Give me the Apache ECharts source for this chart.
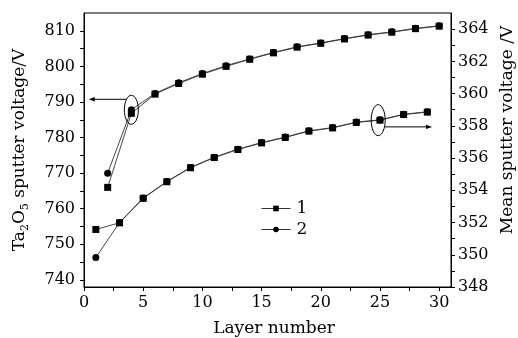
<!DOCTYPE html>
<html><head><meta charset="utf-8">
<script src="https://cdn.jsdelivr.net/npm/echarts@6/dist/echarts.min.js"></script>
<style>html,body{margin:0;padding:0;background:#fff}#c{width:518px;height:338px}</style>
</head><body><div id="c"></div>
<script>
// Upper curve (left axis: Ta2O5 sputter voltage)
const upperX = [2, 4, 6, 8, 10, 12, 14, 16, 18, 20, 22, 24, 26, 28, 30];
const upperS1 = [766.0, 786.8, 792.2, 795.2, 797.8, 800.0, 802.0, 803.8, 805.4, 806.5, 807.7, 808.8, 809.6, 810.6, 811.3];
const upperS2 = [770.0, 787.8, 792.4, 795.4, 798.0, 800.2, 802.1, 803.9, 805.5, 806.6, 807.8, 808.9, 809.7, 810.7, 811.4];
// Lower curve (right axis: mean sputter voltage)
const lowerX = [1, 3, 5, 7, 9, 11, 13, 15, 17, 19, 21, 23, 25, 27, 29];
const lowerS1 = [351.57, 351.98, 353.50, 354.53, 355.40, 356.03, 356.53, 356.94, 357.28, 357.67, 357.87, 358.21, 358.35, 358.70, 358.85];
const lowerS2 = [349.83, 352.00, 353.52, 354.55, 355.42, 356.05, 356.55, 356.96, 357.30, 357.69, 357.89, 358.23, 358.37, 358.72, 358.87];
// Tick labels and tick marks
const xLabels = [0, 5, 10, 15, 20, 25, 30];
const xTickMarks = [0, 2.5, 5, 7.5, 10, 12.5, 15, 17.5, 20, 22.5, 25, 27.5, 30];
const leftLabels = [740, 750, 760, 770, 780, 790, 800, 810];
const leftTickMarks = [740, 745, 750, 755, 760, 765, 770, 775, 780, 785, 790, 795, 800, 805, 810];
const rightLabels = [348, 350, 352, 354, 356, 358, 360, 362, 364];
const rightTickMarks = [348, 349, 350, 351, 352, 353, 354, 355, 356, 357, 358, 359, 360, 361, 362, 363, 364];
const seriesNames = ['1', '2'];

const FONT = 'DejaVu Serif';
const zip = (xs, ys) => xs.map((x, i) => [x, ys[i]]);

const chart = echarts.init(document.getElementById('c'), null, {renderer: 'canvas'});

function axisCommon(labels, ticks, margin) {
  return {
    axisLine: {show: true, onZero: false, lineStyle: {color: '#000', width: 1}},
    axisTick: {show: true, inside: false, length: 4, customValues: ticks, lineStyle: {color: '#000', width: 1}},
    axisLabel: {customValues: labels, color: '#000', fontSize: 16, fontFamily: FONT, margin: margin},
    splitLine: {show: false}
  };
}

const lineStyle = {color: '#333', width: 0.9};
const mkSeries = (name, data, yIdx, symbol) => ({
  name, type: 'line', data, yAxisIndex: yIdx, symbol, symbolSize: 7,
  lineStyle, itemStyle: {color: '#000'}, animation: false, z: 3
});

const option = {
  animation: false,
  grid: {left: 84, right: 67, top: 13, bottom: 51, show: true, borderColor: '#000', borderWidth: 1},
  xAxis: Object.assign({type: 'value', min: 0, max: 31}, axisCommon(xLabels, xTickMarks, 8)),
  yAxis: [
    Object.assign({type: 'value', position: 'left', min: 738, max: 815}, axisCommon(leftLabels, leftTickMarks, 9)),
    Object.assign({type: 'value', position: 'right', min: 348, max: 365}, axisCommon(rightLabels, rightTickMarks, 7))
  ],
  legend: {
    left: 256, top: 195, orient: 'vertical', itemWidth: 29, itemHeight: 7, itemGap: 4,
    data: seriesNames,
    textStyle: {fontSize: 17, fontFamily: FONT, color: '#000', lineHeight: 17, padding: [0, 0, 0, 1]},
    lineStyle: {color: '#333', width: 1}
  },
  series: [
    mkSeries(seriesNames[0], zip(upperX, upperS1), 0, 'rect'),
    mkSeries(seriesNames[1], zip(upperX, upperS2), 0, 'circle'),
    mkSeries(seriesNames[0], zip(lowerX, lowerS1), 1, 'rect'),
    mkSeries(seriesNames[1], zip(lowerX, lowerS2), 1, 'circle')
  ]
};
chart.setOption(option);

// Annotations positioned from data coordinates
const pL = (x, y) => chart.convertToPixel({xAxisIndex: 0, yAxisIndex: 0}, [x, y]);
const pR = (x, y) => chart.convertToPixel({xAxisIndex: 0, yAxisIndex: 1}, [x, y]);
const c1 = pL(upperX[1], (upperS1[1] + upperS2[1]) / 2 + 0.5);
const c2 = pR(lowerX[12] - 0.15, lowerS1[12]);
const a1End = pL(0.4, 0)[0];
const a2End = pR(29.4, 0)[0];
const a1y = c1[1] - 10.5;
const a2y = c2[1] + 6.7;
const stroke = {stroke: '#000', lineWidth: 1, fill: null};
const graphics = [
  {type: 'ellipse', shape: {cx: c1[0], cy: c1[1], rx: 7, ry: 14.5}, style: stroke, z: 10},
  {type: 'line', shape: {x1: c1[0] - 5, y1: a1y, x2: a1End + 4, y2: a1y}, style: {stroke: '#000', lineWidth: 1}, z: 10},
  {type: 'polygon', shape: {points: [[a1End, a1y], [a1End + 6, a1y - 2.2], [a1End + 6, a1y + 2.2]]}, style: {fill: '#000'}, z: 10},
  {type: 'ellipse', shape: {cx: c2[0], cy: c2[1], rx: 7, ry: 15.5}, style: stroke, z: 10},
  {type: 'line', shape: {x1: c2[0] + 6.5, y1: a2y, x2: a2End - 4, y2: a2y}, style: {stroke: '#000', lineWidth: 1}, z: 10},
  {type: 'polygon', shape: {points: [[a2End, a2y], [a2End - 6, a2y - 2.2], [a2End - 6, a2y + 2.2]]}, style: {fill: '#000'}, z: 10},
  // axis titles
  {type: 'text', x: 20, y: 150, rotation: Math.PI / 2, z: 10,
    style: {text: '{n|Ta}{s|2}{n|O}{s|5}{n| sputter voltage/V}', align: 'center', verticalAlign: 'middle',
      rich: {n: {fontSize: 17, fontFamily: FONT, fill: '#000', lineHeight: 22},
             s: {fontSize: 11, fontFamily: FONT, fill: '#000', verticalAlign: 'bottom', lineHeight: 13}}}},
  {type: 'text', x: 508, y: 130, rotation: Math.PI / 2, z: 10,
    style: {text: 'Mean sputter voltage /V', fontSize: 17, fontFamily: FONT, fill: '#000', align: 'center', verticalAlign: 'middle'}},
  {type: 'text', x: 274, y: 329, z: 10,
    style: {text: 'Layer number', fontSize: 17, fontFamily: FONT, fill: '#000', align: 'center', verticalAlign: 'middle'}}
];
chart.setOption({graphic: graphics});
</script>
</body></html>
